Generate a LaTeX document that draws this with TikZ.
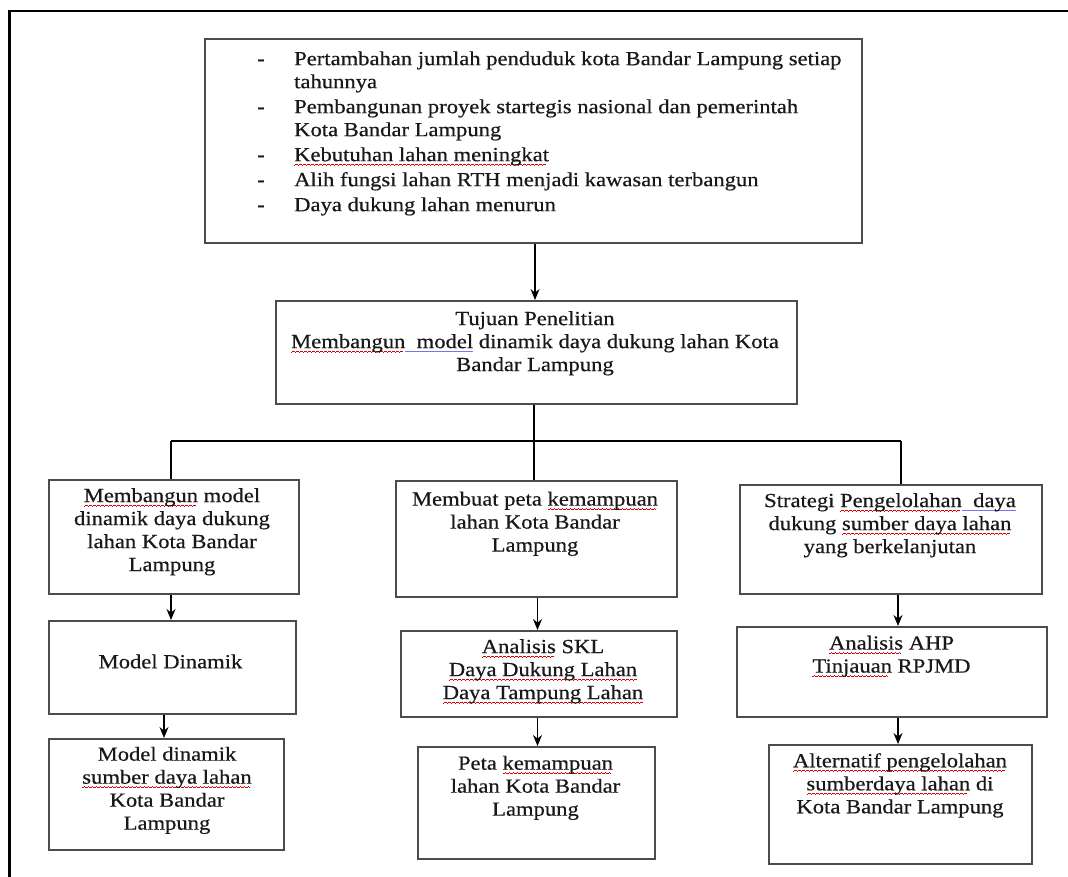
\documentclass[tikz,border=0pt]{standalone}
\usepackage{fontspec}
\setmainfont{Liberation Serif}[FakeStretch=1.13, FakeBold=0.45]
\usetikzlibrary{arrows.meta}

% spell-check style marks: red wave and blue line under a word
\newsavebox\markbox
\newcommand\sq[1]{\sbox\markbox{#1}%
  \rlap{\textcolor{red!85!black}{\leaders\hbox{\rule[-4.4pt]{1pt}{0.7pt}\rule[-3.8pt]{1pt}{0.7pt}\rule[-3.2pt]{1pt}{0.7pt}\rule[-3.8pt]{1pt}{0.7pt}}\hskip\wd\markbox}}%
  \usebox\markbox}
\newcommand\bq[1]{\sbox\markbox{#1}%
  \rlap{\textcolor{blue!55}{\rule[-4pt]{\wd\markbox}{1.2pt}}}%
  \usebox\markbox}

\tikzset{
  box/.style={draw=black!70, line width=1.8pt, inner sep=0pt, fill=white},
  txt/.style={anchor=north, inner sep=0pt, align=center, text=black!90,
              font=\fontsize{20}{23}\selectfont, execute at begin node=\strut},
  link/.style={line width=1.2pt, black},
  arr/.style={link, -{Stealth[length=11pt,width=9pt]}},
  frame/.style={line width=2.4pt, black}
}

\begin{document}
\begin{tikzpicture}[x=1pt, y=-1pt]
\useasboundingbox (0,0) rectangle (1068,877);

% outer frame
\draw[frame] (9.5,877) -- (9.5,11) -- (1068,11);

% boxes: (left,top) and size
\node[box, anchor=north west, minimum width=657pt, minimum height=204pt] (top) at (204,38) {};
\node[box, anchor=north west, minimum width=521pt, minimum height=103pt] (goal) at (275,300) {};

\node[box, anchor=north west, minimum width=250pt, minimum height=114pt] (a1) at (48,479) {};
\node[box, anchor=north west, minimum width=281pt, minimum height=116pt] (b1) at (395,480) {};
\node[box, anchor=north west, minimum width=302pt, minimum height=109pt] (c1) at (739,484) {};

\node[box, anchor=north west, minimum width=247pt, minimum height=93pt] (a2) at (48,620) {};
\node[box, anchor=north west, minimum width=276pt, minimum height=86pt] (b2) at (400,630) {};
\node[box, anchor=north west, minimum width=310pt, minimum height=90pt] (c2) at (736,626) {};

\node[box, anchor=north west, minimum width=235pt, minimum height=111pt] (a3) at (48,738) {};
\node[box, anchor=north west, minimum width=237pt, minimum height=112pt] (b3) at (417,746) {};
\node[box, anchor=north west, minimum width=263pt, minimum height=119pt] (c3) at (768,744) {};

% texts
\node[txt, anchor=north west, align=left] (lst) at (257,48.9) {%
\begin{tabular}{@{}p{37pt}@{}l@{}}
- & Pertambahan jumlah penduduk kota Bandar Lampung setiap\\
  & tahunnya\\[2pt]
- & Pembangunan proyek startegis nasional dan pemerintah\\
  & Kota Bandar Lampung\\[2pt]
- & \sq{Kebutuhan lahan meningkat}\\[2pt]
- & Alih fungsi lahan RTH menjadi kawasan terbangun\\[2pt]
- & Daya dukung lahan menurun
\end{tabular}};

\node[txt] (tgoal) at (535,311) {Tujuan Penelitian\\
  \sq{Membangun}\bq{\ \ model} dinamik daya dukung lahan Kota\\
  Bandar Lampung};

\node[txt] (ta1) at (172,488) {\sq{Membangun} model\\ dinamik daya dukung\\ lahan Kota Bandar\\ Lampung};
\node[txt] (tb1) at (535,491.5) {Membuat peta \sq{kemampuan}\\ lahan Kota Bandar\\ Lampung};
\node[txt] (tc1) at (890,493) {Strategi \sq{Pengelolahan}\bq{\ \ daya}\\ dukung \sq{sumber daya lahan}\\ yang berkelanjutan};

\node[txt] (ta2) at (170.5,652) {Model Dinamik};
\node[txt] (tb2) at (543,639) {\sq{Analisis} SKL\\ \sq{Daya Dukung Lahan}\\ \sq{Daya Tampung Lahan}};
\node[txt] (tc2) at (891.5,635.5) {\sq{Analisis} AHP\\ \sq{Tinjauan} RPJMD};

\node[txt] (ta3) at (167,746.6) {Model dinamik\\ \sq{sumber daya lahan}\\ Kota Bandar\\ Lampung};
\node[txt] (tb3) at (535.5,755.6) {Peta \sq{kemampuan}\\ lahan Kota Bandar\\ Lampung};
\node[txt] (tc3) at (900,753) {\sq{Alternatif pengelolahan}\\ \sq{sumberdaya lahan} di\\ Kota Bandar Lampung};

% connector columns
\coordinate (xm) at (535,0);
\coordinate (xg) at (534,0);
\coordinate (xa) at (171,0);
\coordinate (xa2) at (164,0);
\coordinate (xb) at (537.5,0);
\coordinate (xc) at (898,0);
\coordinate (hl) at (171,441);
\coordinate (hr) at (901,441);
\coordinate (hm) at (534,441);

% connectors
\draw[arr] (top.south -| xm) -- (goal.north -| xm);
\draw[link] (goal.south -| xg) -- (hm);
\draw[link] (hl) -- (hr);
\draw[link] (hl) -- (a1.north -| hl);
\draw[link] (hm) -- (b1.north -| hm);
\draw[link] (hr) -- (c1.north -| hr);

\draw[arr] (a1.south -| xa) -- (a2.north -| xa);
\draw[arr] (a2.south -| xa2) -- (a3.north -| xa2);
\draw[arr] (b1.south -| xb) -- (b2.north -| xb);
\draw[arr] (b2.south -| xb) -- (b3.north -| xb);
\draw[arr] (c1.south -| xc) -- (c2.north -| xc);
\draw[arr] (c2.south -| xc) -- (c3.north -| xc);
\end{tikzpicture}
\end{document}
